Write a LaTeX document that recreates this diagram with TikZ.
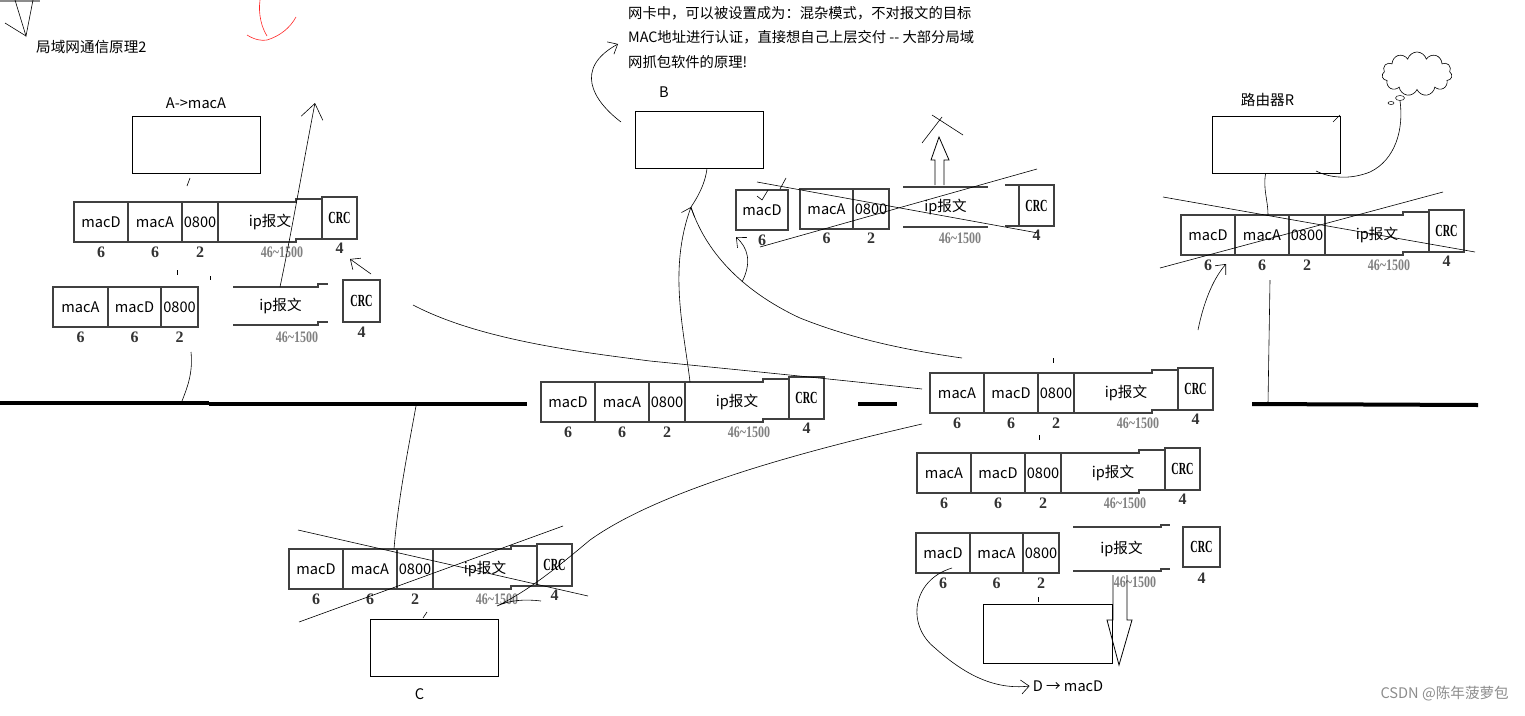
\documentclass[tikz,border=0pt]{standalone}
\usepackage{fontspec}
\setmainfont{Noto Sans CJK SC}
\newfontfamily\numfont{Liberation Serif}
\usetikzlibrary{arrows.meta,positioning,shapes.symbols,shapes.geometric}

\newcommand\cellfont{\fontsize{14.6}{16}\selectfont}
\newcommand\crctext{\scalebox{0.6}[1]{CRC}}
\newcommand\lentext{\scalebox{0.75}[1]{46{\textasciitilde}1500}}

% one Ethernet frame: name, left x, top y, first MAC, second MAC
\newcommand\pkt[5]{%
  \node[cell, minimum width=54pt, anchor=north west] (#1-d) at (#2,#3) {#4};
  \node[cell, minimum width=54pt, right=0pt of #1-d] (#1-s) {#5};
  \node[cell, minimum width=36pt, right=0pt of #1-s] (#1-t) {0800};
  \node[ipcell, right=0pt of #1-t] (#1-ip) {ip报文};
  \node[crc, anchor=south west] (#1-c) at ([yshift=3pt]#1-ip.south east) {\crctext};
  \draw[frm] (#1-ip.north west) -- ++(78,0) -- ++(0,-3) -- ([yshift=3pt]#1-ip.north east);
  \draw[frm] (#1-ip.south west) -- ++(78,0) -- ++(0,-3) -- ([yshift=3pt]#1-ip.south east);
  \node[num] (#1-n1) at ([yshift=-10pt]#1-d.south) {6};
  \node[num] (#1-n2) at ([yshift=-10pt]#1-s.south) {6};
  \node[num] (#1-n3) at ([yshift=-10pt]#1-t.south) {2};
  \node[len] (#1-n4) at ([xshift=12pt,yshift=-10pt]#1-ip.south) {\lentext};
  \node[num] (#1-n5) at ([yshift=-9pt]#1-c.south) {4};
}

\begin{document}
\begin{tikzpicture}[
  x=1pt, y=-1pt,
  cell/.style={draw=black!75, line width=1.1pt, minimum height=40pt,
               inner sep=0pt, outer sep=0pt, font=\cellfont},
  ipcell/.style={minimum width=104pt, minimum height=40pt, inner sep=0pt,
                 outer sep=0pt, font=\cellfont},
  crc/.style={draw=black!75, line width=1.1pt, minimum width=35pt, minimum height=42pt,
              inner sep=0pt, outer sep=0pt, font=\numfont\bfseries\fontsize{17}{17}\selectfont},
  frm/.style={draw=black!75, line width=1.1pt},
  num/.style={font=\numfont\bfseries\fontsize{16}{16}\selectfont, inner sep=0pt, text=black!80},
  len/.style={num, text=black!50},
  host/.style={draw=black, line width=0.8pt, minimum width=128pt, minimum height=57pt, inner sep=0pt},
  lbl/.style={font=\cellfont, inner sep=1pt},
  hand/.style={draw=black, line width=0.6pt},
  barb/.style={hand, -{Straight Barb[length=8pt,width=14pt]}},
  bigbarb/.style={hand, -{Straight Barb[length=15pt,width=22pt]}},
  bus/.style={draw=black, line width=4pt},
]
\useasboundingbox (0,0) rectangle (1525,715);

% ============ stray marks at the top ========================================
\draw[black!45, line width=1.5pt] (0,0.8) -- (40,0.8);
\draw[hand] (15,0) -- (26,36) -- (33,0);
\draw[hand] (5,23) -- (26,36);
\draw[red!85, line width=0.6pt] (260,0) .. controls (258,15) and (262,28) .. (267,36);
\draw[red!85, line width=0.6pt] (247,35) .. controls (255,40) and (262,41) .. (267,40)
  .. controls (280,36) and (290,28) .. (296,17);

\node[lbl, anchor=west] (title) at (35,47) {局域网通信原理2};
\node[lbl, anchor=north west, align=left, inner sep=0pt, font=\fontsize{14.3}{24.5}\selectfont]
  (promisc) at (628,6) {网卡中，可以被设置成为：混杂模式，不对报文的目标\\
  MAC地址进行认证，直接想自己上层交付 -{}- 大部分局域\\
  网抓包软件的原理!};

% ============ hosts ==========================================================
\node[host] (hA) at (196,144.5) {};
\node[lbl, above=6pt of hA] (lA) {A->macA};
\node[host] (hB) at (699,139.5) {};
\node[lbl, above=12pt of hB, xshift=-35pt] (lB) {B};
\node[host] (hR) at (1276.5,145) {};
\node[lbl, above=8pt of hR, xshift=-9pt] (lR) {路由器R};
\node[host] (hC) at (434.5,648) {};
\node[lbl, below=10pt of hC, xshift=-15pt] (lC) {C};
\node[host, minimum width=129pt, minimum height=59pt] (hD) at (1047.5,633.5) {};
\node[lbl] (lD) at (1068,686) {D → macD};
\node[cloud, draw, line width=0.6pt, cloud puffs=11, minimum width=70pt,
      minimum height=44pt, inner sep=0pt] (net) at (1417,74) {};
\node[ellipse, draw, line width=0.5pt, minimum width=9pt, minimum height=5pt,
      inner sep=0pt] (bub1) at (1400,98) {};
\node[ellipse, draw, line width=0.5pt, minimum width=6pt, minimum height=3pt,
      inner sep=0pt] (bub2) at (1391,103) {};

% ============ the bus ========================================================
\draw[bus] (0,403) -- (209,403);
\draw[bus] (209,404) -- (527,404);
\draw[bus] (858,404) -- (897,404);
\draw[bus] (1252,404) -- (1478,405);

% ============ frames =========================================================
\pkt{fA}{74}{202}{macD}{macA}
\pkt{fM}{541}{382}{macD}{macA}
\pkt{fR1}{930}{373}{macA}{macD}
\pkt{fR2}{917}{453}{macA}{macD}
\pkt{fR}{1181}{215}{macD}{macA}
\pkt{fC}{289}{549}{macD}{macA}

% A, reply frame cut in parts
\node[cell, minimum width=55pt, anchor=north west] (fA2-d) at (53,287) {macA};
\node[cell, minimum width=53pt, right=0pt of fA2-d] (fA2-s) {macD};
\node[cell, minimum width=37pt, right=0pt of fA2-s] (fA2-t) {0800};
\node[ipcell, minimum width=95pt, minimum height=38pt, anchor=north west] (fA2-ip) at (233,287) {ip报文};
\draw[frm] (fA2-ip.north west) -- ++(85,0) -- ++(0,-3) -- ++(10,0);
\draw[frm] (fA2-ip.south west) -- ++(85,0) -- ++(0,-3) -- ++(10,0);
\node[crc, minimum width=37pt, anchor=north west] (fA2-c) at (343,280) {\crctext};
\node[num] (fA2-n1) at ([yshift=-10pt]fA2-d.south) {6};
\node[num] (fA2-n2) at ([yshift=-10pt]fA2-s.south) {6};
\node[num] (fA2-n3) at ([yshift=-10pt]fA2-t.south) {2};
\node[len] (fA2-n4) at (297,337) {\lentext};
\node[num] (fA2-n5) at ([yshift=-10pt]fA2-c.south) {4};

% B, frame cut in parts
\node[cell, minimum width=52pt, anchor=north west] (fB-d) at (736,190) {macD};
\node[cell, minimum width=53pt, anchor=north west] (fB-s) at (800,189) {macA};
\node[cell, minimum width=36pt, right=0pt of fB-s] (fB-t) {0800};
\node[ipcell, minimum width=85pt, anchor=north west] (fB-ip) at (903,187) {ip报文};
\draw[frm] (fB-ip.north west) -- (fB-ip.north east);
\draw[frm] (fB-ip.south west) -- (fB-ip.south east);
\node[crc, anchor=north west, minimum height=41pt] (fB-c) at (1019,185) {\crctext};
\draw[frm] (fB-c.north west) -- ++(-14,0);
\draw[frm] (fB-c.south west) -- ++(-14,0);
\node[num] (fB-n1) at ([yshift=-10pt]fB-d.south) {6};
\node[num] (fB-n2) at ([yshift=-9pt]fB-s.south) {6};
\node[num] (fB-n3) at ([yshift=-9pt]fB-t.south) {2};
\node[len] (fB-n4) at (960,238) {\lentext};
\node[num] (fB-n5) at ([yshift=-9pt]fB-c.south) {4};

% D, frame cut in parts
\node[cell, minimum width=54pt, anchor=north west] (fD-d) at (916,533) {macD};
\node[cell, minimum width=53pt, right=0pt of fD-d] (fD-s) {macA};
\node[cell, minimum width=36pt, right=0pt of fD-s] (fD-t) {0800};
\node[ipcell, minimum width=97pt, minimum height=44pt, anchor=north west] (fD-ip) at (1073,527) {ip报文};
\draw[frm] (fD-ip.north west) -- ++(88,0) -- ++(0,-2) -- ++(9,0);
\draw[frm] (fD-ip.south west) -- ++(88,0) -- ++(0,-2) -- ++(9,0);
\node[crc, minimum width=37pt, minimum height=40pt, anchor=north west] (fD-c) at (1183,527) {\crctext};
\node[num] (fD-n1) at ([yshift=-10pt]fD-d.south) {6};
\node[num] (fD-n2) at ([yshift=-10pt]fD-s.south) {6};
\node[num] (fD-n3) at ([yshift=-10pt]fD-t.south) {2};
\node[len] (fD-n4) at (1135,582) {\lentext};
\node[num] (fD-n5) at ([yshift=-11pt]fD-c.south) {4};

% ============ crossed out frames =============================================
\draw[hand] (298,530) -- (588,596);
\draw[hand] (299,622) -- (563,526);
\draw[hand] (757,182) -- (1038,233);
\draw[hand] (760,247) -- (1037,169);
\draw[hand] (1163,197) -- (1475,252);
\draw[hand] (1160,268) -- (1443,192);

% hollow arrows: B hands up (crossed), D hands up to its host
\draw[hand, line width=0.8pt] (935,185) -- (935,160) -- (931,160) -- (939,137)
  -- (949,160) -- (944,160) -- (944,185);
\draw[hand] (922,143) -- (942,117);
\draw[hand] (932,115) -- (963,135);
\draw[hand, line width=0.8pt] (1113,575) -- (1113,620) -- (1107,620) -- (1119,665)
  -- (1132,620) -- (1127,620) -- (1127,575);

% ============ small ticks ====================================================
\draw[hand] (190,178) -- (187,186);
\draw[hand] (177,270) -- (177,275);
\draw[hand] (210,276) -- (210,280);
\draw[hand] (1053,358) -- (1053,363);
\draw[hand] (1039,435) -- (1039,440);
\draw[hand] (1038,597) -- (1038,602);
\draw[hand] (423,618) -- (427,612);
\draw[hand] (757,196) -- (762,200) -- (768,190);
\draw[hand] (780,189) -- (786,178);
\draw[hand] (1340,115) -- (1333,122);

% ============ hand drawn connectors ==========================================
\coordinate (upA) at (315,103);
\draw[bigbarb] ([xshift=47pt]fA2-ip.north west) .. controls (292,230) and (303,165) .. (upA);
\coordinate (crcS) at (371,274);
\coordinate (crcT) at (350,259);
\draw[barb] (crcS) -- (crcT);
\coordinate (a2bus) at (191,352);
\coordinate (busA) at (182,401);
\draw[hand] (a2bus) .. controls (193,372) and (188,386) .. (busA);

\coordinate (busC) at (416,406);
\draw[hand] (busC) .. controls (408,450) and (398,500) .. ([xshift=24pt]fC-s.north);

\coordinate (tipB) at (691,207);
\draw[barb] ([xshift=5pt]fM-ip.north west) .. controls (684,330) and (668,270) .. (tipB);
\draw[hand] ([xshift=8pt]hB.south) .. controls (705,185) and (697,198) .. (tipB);
\coordinate (fR1in) at (962,358);
\draw[hand] (tipB) .. controls (705,250) and (740,290) .. (800,318)
  .. controls (860,342) and (920,352) .. (fR1in);
\coordinate (hookB) at (742,282);
\draw[barb] (hookB) .. controls (752,262) and (748,248) .. (736,237);

\coordinate (fA2out) at (413,305);
\coordinate (fR1l) at (922,389);
\draw[hand] (fA2out) .. controls (480,340) and (580,352) .. (650,361)
  .. controls (760,372) and (860,382) .. (fR1l);

\coordinate (fR1lo) at (922,424);
\coordinate (hookC) at (541,601);
\draw[hand] (fR1lo) .. controls (800,452) and (660,490) .. (590,540)
  .. controls (560,565) and (530,590) .. (497,606)
  .. controls (510,600) and (525,599) .. (hookC);

\coordinate (noteS) at (621,122);
\coordinate (noteT) at (618,44);
\draw[barb] (noteS) .. controls (592,100) and (574,68) .. (noteT);

\coordinate (macDD) at (952,568);
\draw[barb] (macDD) .. controls (912,580) and (906,625) .. (935,648)
  .. controls (965,675) and (995,690) .. ([xshift=-2pt]lD.west);

\draw[hand] ([xshift=-11pt]hR.south) .. controls (1263,190) and (1268,200) .. ([xshift=6pt]fR-s.north);
\coordinate (busR) at (1268,403);
\coordinate (fRb) at (1270,280);
\draw[hand] (busR) -- (fRb);
\coordinate (upR) at (1198,330);
\draw[barb] (upR) .. controls (1203,305) and (1212,280) .. (1226,264);
\coordinate (cloudE) at (1316,171);
\draw[hand] (bub1.south) .. controls (1404,130) and (1395,160) .. (1370,172)
  .. controls (1350,180) and (1330,178) .. (cloudE);

\node[lbl, anchor=east, text=black!45] (mark) at (1510,694) {CSDN @陈年菠萝包};
\end{tikzpicture}
\end{document}
